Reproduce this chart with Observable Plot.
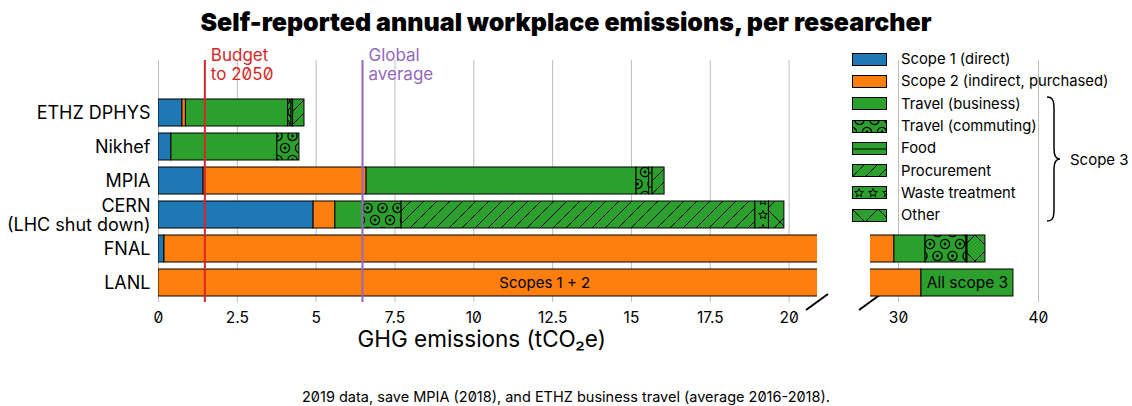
<!DOCTYPE html>
<html><head><meta charset="utf-8">
<script src="https://cdn.jsdelivr.net/npm/d3@7"></script>
<script src="https://cdn.jsdelivr.net/npm/@observablehq/plot@0.6"></script>
<style>
html,body{margin:0;padding:0;background:#fff;}
body{width:1132px;height:406px;position:relative;overflow:hidden;font-family:Inter,sans-serif;font-feature-settings:"zero" 1;color:#000;}
#title{height:40px;line-height:44px;text-align:center;font-size:25px;font-weight:900;}
#chart{position:relative;width:1132px;height:330px;}
#chart svg{position:absolute;left:0;top:0;font-feature-settings:"zero" 1;}
#caption{position:absolute;top:389px;left:0;width:1132px;text-align:center;font-size:14.5px;line-height:16px;}
#legend{position:absolute;left:852px;top:48px;}
.row{display:flex;align-items:center;height:22.3px;font-size:14.8px;white-space:nowrap;}
.row svg{display:block;margin-right:14px;}
#brace{position:absolute;left:1044px;top:95px;}
#scope3{position:absolute;left:1070px;top:151px;font-size:15px;line-height:18px;}
</style></head>
<body>
<div id="title">Self-reported annual workplace emissions, per researcher</div>
<div id="chart"></div>
<div id="legend"></div>
<svg id="brace" width="22" height="130"><path d="M3,2 C9,2 10,6 10,14 L10,54 C10,61 12,64 16,64 C12,64 10,67 10,74 L10,114 C10,122 9,126 3,126" fill="none" stroke="#000" stroke-width="1.5"/></svg>
<div id="scope3">Scope 3</div>
<div id="caption">2019 data, save MPIA (2018), and ETHZ business travel (average 2016-2018).</div>
<script>
// ---- data ----
const sites = ["ETHZ DPHYS", "Nikhef", "MPIA", "CERN\n(LHC shut down)", "FNAL", "LANL"];
const categories = ["Scope 1 (direct)", "Scope 2 (indirect, purchased)", "Travel (business)", "Travel (commuting)", "Food", "Procurement", "Waste treatment", "Other"];
const scope1      = [0.76, 0.41, 1.43, 4.92, 0.19, 0];
const scope2      = [0.11, 0,    5.17, 0.69, 29.52, 0];
const business    = [3.24, 3.36, 8.56, 0.88, 2.22, 0];
const commuting   = [0.11, 0.70, 0.40, 1.22, 2.93, 0];
const food        = [0.05, 0,    0.11, 0,    0.07, 0];
const procurement = [0.36, 0,    0.38, 11.22, 0,   0];
const waste       = [0,    0,    0,    0.43, 0,    0];
const other       = [0,    0,    0,    0.49, 1.28, 0];
const lanlLabels  = ["Scopes 1 + 2", "All scope 3"];
const lanlValues  = [31.64, 6.57];
const refLabels   = ["Budget\nto 2050", "Global\naverage"];
const refValues   = [1.47, 6.47];
const ticksLeft   = [0, 2.5, 5, 7.5, 10, 12.5, 15, 17.5, 20];
const ticksRight  = [30, 40];
const domainLeft  = [0, 20.9];
const domainRight = [28, 40.5];
const axisLabel   = "GHG emissions (tCO\u2082e)";

// ---- styles ----
const green = "#2ca02c";
const fills = ["#1f77b4", "#ff7f0e", green, "url(#pCommute)", "url(#pFood)", "url(#pProc)", "url(#pWaste)", "url(#pOther)"];
const refColors = ["#d62728", "#9467bd"];

const series = [scope1, scope2, business, commuting, food, procurement, waste, other];
const segments = [];
sites.forEach((s, i) => {
  let x = 0;
  series.forEach((vals, k) => {
    const v = vals[i];
    if (v > 0) { segments.push({site: s, fill: fills[k], x1: x, x2: x + v}); x += v; }
  });
});
{
  let x = 0;
  lanlValues.forEach((v, k) => {
    segments.push({site: sites[5], fill: fills[k === 0 ? 1 : 2], x1: x, x2: x + v, label: lanlLabels[k]});
    x += v;
  });
}
const labelled = segments.filter(d => d.label);

const W = 1132, H = 330, MT = 20, MB = 68;
const yScale = {domain: sites, range: [58.2, 257.8], paddingInner: 0.2, paddingOuter: 0, axis: null};
const baseStyle = {fontFamily: "Inter, sans-serif", fontSize: "15.5px", color: "#000", overflow: "visible"};
const fmt = d => String(d);

const left = Plot.plot({
  width: W, height: H, marginLeft: 158, marginRight: W - 817, marginTop: MT, marginBottom: MB,
  style: {...baseStyle, background: "#fff"},
  x: {domain: domainLeft, ticks: ticksLeft, tickFormat: fmt, tickSize: 0, tickPadding: 9, label: null, fontVariant: "normal"},
  y: yScale,
  color: {type: "identity"},
  marks: [
    Plot.ruleX(ticksLeft, {stroke: "#bdbdbd", strokeWidth: 1}),
    Plot.barX(segments, {y: "site", x1: "x1", x2: "x2", fill: "fill", stroke: "#000", strokeWidth: 1, clip: true}),
    Plot.text(labelled.slice(0, 1), {y: "site", x: () => 12.25, text: "label", fontSize: 15, fill: "#000"}),
    Plot.ruleX(refValues, {stroke: (d, i) => refColors[i], strokeWidth: 2}),
    Plot.text(refValues, {x: d => d, text: (d, i) => refLabels[i], fill: (d, i) => refColors[i], frameAnchor: "top", lineAnchor: "top", textAnchor: "start", dx: 6, dy: -13, fontSize: 17, lineHeight: 1.12}),
    Plot.text(sites, {y: d => d, text: d => d, frameAnchor: "left", textAnchor: "end", dx: -8, fontSize: 18, lineHeight: 1.06, fill: "#000"}),
    Plot.text([axisLabel], {x: () => 10.25, text: d => d, frameAnchor: "bottom", dy: 44, fontSize: 22.5, fill: "#000"})
  ]
});

const right = Plot.plot({
  width: W, height: H, marginLeft: 870, marginRight: W - 1045, marginTop: MT, marginBottom: MB,
  style: {...baseStyle, background: "transparent"},
  x: {domain: domainRight, ticks: ticksRight, tickFormat: fmt, tickSize: 0, tickPadding: 9, label: null, fontVariant: "normal"},
  y: yScale,
  color: {type: "identity"},
  marks: [
    Plot.ruleX(ticksRight, {stroke: "#bdbdbd", strokeWidth: 1}),
    Plot.barX(segments, {y: "site", x1: "x1", x2: "x2", fill: "fill", stroke: "#000", strokeWidth: 1, clip: true}),
    Plot.text(labelled.slice(1), {y: "site", x: d => (d.x1 + d.x2) / 2, text: "label", fontSize: 15.5, fill: "#000"})
  ]
});
document.getElementById("chart").append(left, right);

// patterns
const svg = d3.select(left);
const defs = svg.append("defs");
function pattern(id, w, h, draw) {
  const p = defs.append("pattern").attr("id", id).attr("patternUnits", "userSpaceOnUse").attr("width", w).attr("height", h);
  p.append("rect").attr("width", w).attr("height", h).attr("fill", green);
  draw(p);
}
pattern("pCommute", 15, 24, p => {
  for (const [cx, cy] of [[7.5, 0], [7.5, 24], [0, 12], [15, 12]]) {
    p.append("circle").attr("cx", cx).attr("cy", cy).attr("r", 4.6).attr("fill", "none").attr("stroke", "#000").attr("stroke-width", 1.3);
    p.append("circle").attr("cx", cx).attr("cy", cy).attr("r", 1.4).attr("fill", "#000");
  }
});
pattern("pFood", 10, 14, p => p.append("path").attr("d", "M0,7H10").attr("stroke", "#000").attr("stroke-width", 1));
pattern("pProc", 13, 13, p => p.append("path").attr("d", "M0,13L13,0M-3,3L3,-3M10,16L16,10").attr("stroke", "#000").attr("stroke-width", 1));
pattern("pWaste", 14, 14, p => {
  const pts = d3.range(10).map(j => { const a = -Math.PI / 2 + j * Math.PI / 5, r = j % 2 ? 2 : 4.5; return [7 + r * Math.cos(a), 7 + r * Math.sin(a)]; });
  p.append("path").attr("d", "M" + pts.join("L") + "Z").attr("fill", "none").attr("stroke", "#000").attr("stroke-width", 1);
});
pattern("pOther", 26, 26, p => p.append("path").attr("d", "M0,0L26,26M26,0L0,26").attr("stroke", "#000").attr("stroke-width", 1));

// break marks at the panel edges
const yBottom = H - MB;
const bx = [left.scale("x").apply(domainLeft[1]), right.scale("x").apply(domainRight[0])];
bx.forEach(x => svg.append("line").attr("x1", x - 11).attr("y1", yBottom + 8).attr("x2", x + 11).attr("y2", yBottom - 8).attr("stroke", "#000").attr("stroke-width", 2));

// legend
const legend = d3.select("#legend");
categories.forEach((c, k) => {
  const row = legend.append("div").attr("class", "row");
  const s = row.append("svg").attr("width", 35).attr("height", 13);
  s.append("rect").attr("x", 0.5).attr("y", 0.5).attr("width", 34).attr("height", 12).attr("fill", fills[k]).attr("stroke", "#000").attr("stroke-width", 1);
  row.append("span").text(c);
});
</script>
</body></html>
